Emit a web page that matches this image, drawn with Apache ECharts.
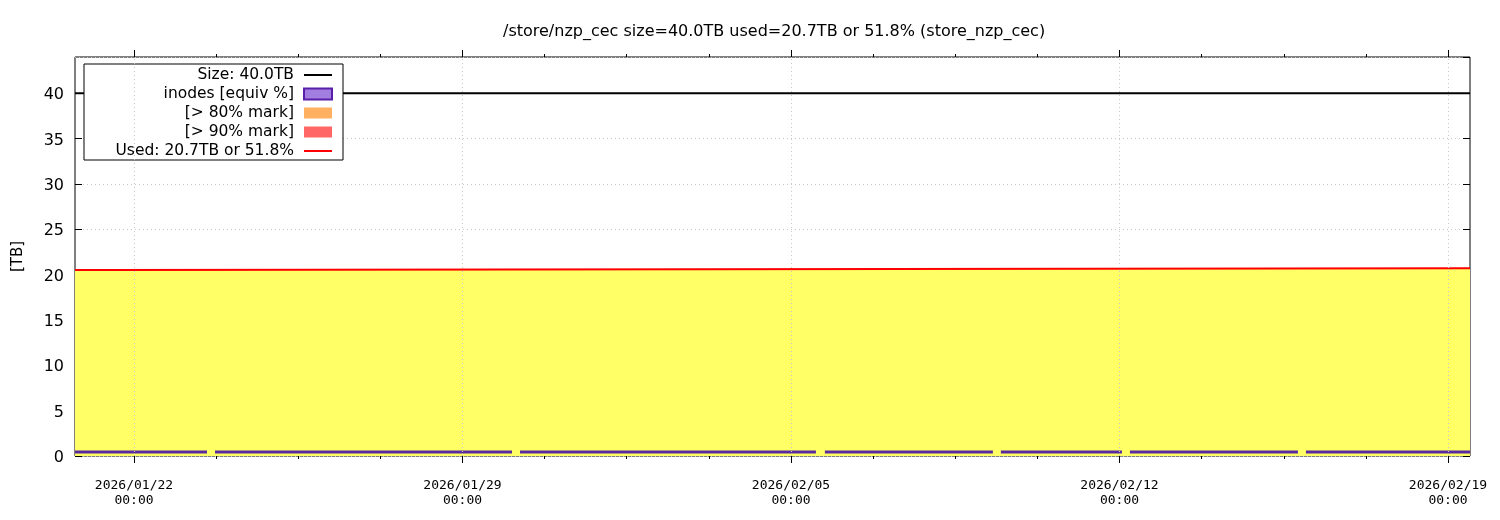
<!DOCTYPE html>
<html>
<head>
<meta charset="utf-8">
<script src="https://cdn.jsdelivr.net/npm/echarts@6/dist/echarts.min.js"></script>
<style>
  html, body { margin: 0; padding: 0; background: #fff; }
  #main { width: 1500px; height: 520px; }
</style>
</head>
<body>
<div id="main"></div>
<script>
// times are 'YYYY/MM/DD HH:mm', read as UTC
function T(s) {
  var p = s.split(/[\/ :]/);
  return Date.UTC(+p[0], +p[1] - 1, +p[2], +p[3], +p[4]);
}

var chartTitle = '/store/nzp_cec size=40.0TB used=20.7TB or 51.8% (store_nzp_cec)';
var startTime = '2026/01/20 17:50';
var endTime = '2026/02/19 11:15';
var majorTicks = ['2026/01/22 00:00', '2026/01/29 00:00', '2026/02/05 00:00', '2026/02/12 00:00', '2026/02/19 00:00'];
var yMax = 44;
var yInterval = 5;

var sizeTB = 40.0;
var usedTimes = ['2026/01/20 17:50', '2026/01/21 17:10', '2026/01/21 17:35', '2026/02/19 11:15'];
var usedValues = [20.5, 20.5, 20.7, 20.7];

var inodeValue = 0.45;
var inodeGapStarts = ['2026/01/23 13:20', '2026/01/30 01:20', '2026/02/05 12:45', '2026/02/09 07:15', '2026/02/12 01:15', '2026/02/15 19:15'];
var inodeGapEnds   = ['2026/01/23 17:25', '2026/01/30 05:25', '2026/02/05 17:20', '2026/02/09 11:20', '2026/02/12 05:20', '2026/02/15 23:20'];

var legendNames = ['Size: 40.0TB', 'inodes [equiv %]', '[> 80% mark]', '[> 90% mark]', 'Used: 20.7TB or 51.8%'];

var t0 = T(startTime), t1 = T(endTime);
var majorMs = majorTicks.map(T);
// 4 subdivisions between majors (gnuplot mxtics)
var minorMs = [];
var step = (majorMs[1] - majorMs[0]) / 4;
for (var m = majorMs[0] - step; m <= t1; m += step) {
  if (m >= t0 && majorMs.indexOf(m) < 0) minorMs.push(m);
}

var usedData = usedTimes.map(function (t, i) { return [T(t), usedValues[i]]; });

var inodeData = [];
var segStarts = [startTime].concat(inodeGapEnds);
var segEnds = inodeGapStarts.concat([endTime]);
segStarts.forEach(function (s, i) {
  inodeData.push([T(s), inodeValue]);
  inodeData.push([T(segEnds[i]), inodeValue]);
  if (i < segStarts.length - 1) inodeData.push([T(segEnds[i]), null]);
});

function pad(n) { return (n < 10 ? '0' : '') + n; }
function fmt(v) {
  var d = new Date(v);
  return d.getUTCFullYear() + '/' + pad(d.getUTCMonth() + 1) + '/' + pad(d.getUTCDate()) +
    '\n' + pad(d.getUTCHours()) + ':' + pad(d.getUTCMinutes());
}

function tickAxis(pos, values, len, labels) {
  return {
    type: 'value', position: pos, min: t0, max: t1,
    axisLine: { show: false },
    splitLine: { show: false },
    axisTick: { show: true, customValues: values, length: len, lineStyle: { color: '#000', width: 1 } },
    axisLabel: labels ? {
      show: true, customValues: values, formatter: fmt, margin: 22,
      fontFamily: 'DejaVu Sans Mono', fontSize: 13, lineHeight: 15, color: '#000'
    } : { show: false }
  };
}

var sansFont = 'DejaVu Sans';
var lineIcon = 'path://M0,0H28V2H0Z';

var option = {
  animation: false,
  backgroundColor: '#fff',
  title: {
    text: chartTitle, left: 498, top: 19,
    textStyle: { fontFamily: sansFont, fontSize: 16, fontWeight: 'normal', color: '#000' }
  },
  grid: { left: 75, right: 30, top: 57, bottom: 64, show: true, borderColor: '#000', borderWidth: 1, backgroundColor: 'transparent' },
  legend: {
    orient: 'vertical', left: 84, top: 64, align: 'right',
    padding: [3, 10, 1, 10], itemGap: 3, itemWidth: 28, itemHeight: 11,
    backgroundColor: '#fff', borderColor: '#000', borderWidth: 1,
    selectedMode: false,
    formatter: function (name) { return '{a|' + name + '}'; },
    textStyle: {
      rich: { a: { fontFamily: sansFont, fontSize: 15.5, lineHeight: 16, color: '#000', width: 200, align: 'right', padding: [0, 5, 0, 0] } }
    },
    data: [
      { name: legendNames[0], icon: lineIcon, itemStyle: { color: '#000', borderWidth: 0 } },
      { name: legendNames[1], icon: 'rect', itemStyle: { color: '#a27ee0', borderColor: '#5a1fa8', borderWidth: 2 } },
      { name: legendNames[2], icon: 'rect', itemStyle: { color: '#ffb060', borderWidth: 0 } },
      { name: legendNames[3], icon: 'rect', itemStyle: { color: '#ff6666', borderWidth: 0 } },
      { name: legendNames[4], icon: lineIcon, itemStyle: { color: '#ff0000', borderWidth: 0 } }
    ]
  },
  xAxis: [
    tickAxis('bottom', majorMs, 7, true),
    tickAxis('bottom', minorMs, 3, false),
    tickAxis('top', majorMs, 7, false),
    tickAxis('top', minorMs, 3, false)
  ],
  yAxis: [{
    type: 'value', min: 0, max: yMax, interval: yInterval,
    name: '[TB]', nameLocation: 'middle', nameGap: 49, nameRotate: 90,
    nameTextStyle: { fontFamily: sansFont, fontSize: 15, color: '#000' },
    axisLine: { show: false },
    axisTick: { show: true, inside: true, length: 7, lineStyle: { color: '#000' } },
    axisLabel: {
      showMaxLabel: false, margin: 11,
      formatter: function (v) { return '{n|' + v + '}'; },
      rich: { n: { fontFamily: sansFont, fontSize: 16, color: '#000', padding: [4, 0, 0, 0] } }
    },
    splitLine: { show: true, lineStyle: { color: '#c8c8c8', type: [1, 3], width: 1 } }
  }, {
    type: 'value', min: 0, max: yMax, interval: yInterval, position: 'right',
    axisLine: { show: false },
    axisTick: { show: true, inside: true, length: 7, lineStyle: { color: '#000' } },
    axisLabel: { show: false },
    splitLine: { show: false }
  }],
  series: [
    {
      name: legendNames[0], type: 'line', z: 1, symbol: 'none',
      data: [[t0, sizeTB], [t1, sizeTB]],
      color: '#000', lineStyle: { color: '#000', width: 2 },
      markLine: {
        silent: true, symbol: 'none', label: { show: false },
        lineStyle: { color: '#c8c8c8', type: [1, 3], width: 1 },
        data: majorMs.map(function (v) { return { xAxis: v }; })
      }
    },
    {
      name: legendNames[4], type: 'line', z: 2, symbol: 'none',
      data: usedData,
      color: '#ff0000', lineStyle: { color: '#ff0000', width: 2 },
      areaStyle: { color: '#ffff66', opacity: 1 }
    },
    {
      name: legendNames[1], type: 'line', z: 3, symbol: 'none', connectNulls: false,
      data: inodeData,
      color: '#5a1fa8', lineStyle: { color: '#5a2aa0', width: 3 }
    },
    { name: legendNames[2], type: 'line', symbol: 'none', data: [], color: '#ffb060' },
    { name: legendNames[3], type: 'line', symbol: 'none', data: [], color: '#ff6666' }
  ]
};

var chart = echarts.init(document.getElementById('main'));
chart.setOption(option);
</script>
</body>
</html>
